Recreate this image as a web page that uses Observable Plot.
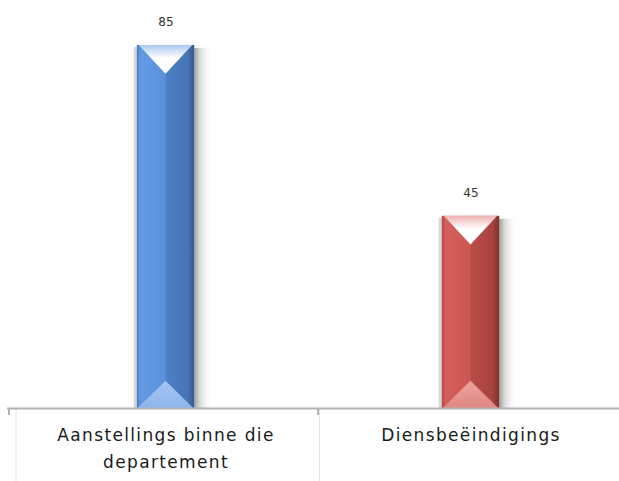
<!DOCTYPE html>
<html><head><meta charset="utf-8">
<script src="https://cdn.jsdelivr.net/npm/d3@7"></script>
<script src="https://cdn.jsdelivr.net/npm/@observablehq/plot@0.6"></script>
<style>
body{margin:0;background:#fff;overflow:hidden}
g[aria-label="x-axis tick label"] text{letter-spacing:1.35px}
</style>
</head><body><div id="chart"></div>
<script>
const categories = ["Aanstellings binne die departement", "Diensbeëindigings"];
const values = [85, 45];
const tickLabels = ["Aanstellings binne die\ndepartement", "Diensbeëindigings"];
const tones = ["blue", "red"];

const data = categories.map((c, i) => ({category: c, value: values[i], tone: tones[i]}));

const toneColors = {
  blue: {edgeL: "#4a7cc4", light: "#639ae4", mid: "#5b91dc", dark: "#4c80c8", darker: "#4674b6", edgeR: "#36598c",
         capTop: "#a9c9f2", bottom: "#8db5ec", bottomHi: "#a6c6f2"},
  red:  {edgeL: "#b84643", light: "#d55f5a", mid: "#cc5752", dark: "#ba4b47", darker: "#a8433f", edgeR: "#7d2f2c",
         capTop: "#eeb1ae", bottom: "#e08784", bottomHi: "#eba5a2"}
};

function bevel(index, scales, vals, dims, ctx, next) {
  const g = next(index, scales, vals, dims, ctx);
  const defs = d3.create("svg:defs");
  for (const t of Object.keys(toneColors)) {
    const c = toneColors[t];
    const h = defs.append("linearGradient").attr("id", "body-" + t).attr("x1", 0).attr("x2", 1).attr("y1", 0).attr("y2", 0);
    [[0, c.edgeL], [0.07, c.light], [0.49, c.mid], [0.51, c.dark], [0.88, c.darker], [1, c.edgeR]]
      .forEach(([o, col]) => h.append("stop").attr("offset", o).attr("stop-color", col));
    const top = defs.append("linearGradient").attr("id", "top-" + t).attr("x1", 0).attr("x2", 0).attr("y1", 0).attr("y2", 1);
    [[0, c.capTop], [0.45, "#ffffff"], [1, "#ffffff"]]
      .forEach(([o, col]) => top.append("stop").attr("offset", o).attr("stop-color", col));
    const bot = defs.append("linearGradient").attr("id", "bot-" + t).attr("x1", 0).attr("x2", 0).attr("y1", 0).attr("y2", 1);
    [[0, c.bottomHi], [1, c.bottom]]
      .forEach(([o, col]) => bot.append("stop").attr("offset", o).attr("stop-color", col));
  }
  const sh = defs.append("linearGradient").attr("id", "shadow").attr("x1", 0).attr("x2", 1).attr("y1", 0).attr("y2", 0);
  [[0, "#8c8c8c", 0.85], [0.35, "#bdbdbd", 0.5], [1, "#ffffff", 0]]
    .forEach(([o, col, op]) => sh.append("stop").attr("offset", o).attr("stop-color", col).attr("stop-opacity", op));

  const wrap = d3.create("svg:g");
  wrap.append(() => defs.node());
  const rects = Array.from(g.querySelectorAll("rect"));
  rects.forEach((r, k) => {
    const i = index[k];
    const t = data[i].tone;
    const x = +r.getAttribute("x"), y = +r.getAttribute("y");
    const w = +r.getAttribute("width"), h = +r.getAttribute("height");
    wrap.append("rect").attr("x", x + w).attr("y", y + 3).attr("width", 18).attr("height", h - 3).attr("fill", "url(#shadow)");
    wrap.append("rect").attr("x", x - 3).attr("y", y + 2).attr("width", 3).attr("height", h - 2).attr("fill", "#d6d6d6");
    r.setAttribute("fill", `url(#body-${t})`);
    wrap.append(() => r);
    const d = w / 2;
    wrap.append("polygon")
      .attr("points", `${x + 2},${y} ${x + w - 2},${y} ${x + w / 2},${y + d}`)
      .attr("fill", `url(#top-${t})`);
    wrap.append("polygon")
      .attr("points", `${x + 1},${y + h} ${x + w - 1},${y + h} ${x + w / 2},${y + h - d * 0.95}`)
      .attr("fill", `url(#bot-${t})`);
  });
  return wrap.node();
}

function dividers(index, scales, vals, dims) {
  const g = d3.create("svg:g");
  const y0 = scales.y(0);
  categories.forEach((c, k) => {
    const px = scales.x(c);
    const tx = k === 0 ? px - 4 : px;
    g.append("line").attr("x1", tx).attr("x2", tx).attr("y1", y0).attr("y2", y0 + 7)
      .attr("stroke", "#b3b3b3").attr("stroke-width", 2);
    const lx = k === 0 ? px + 3 : px + 1.5;
    g.append("line").attr("x1", lx).attr("x2", lx).attr("y1", y0 + 1).attr("y2", dims.height)
      .attr("stroke", "#e2e2e2").attr("stroke-width", 1);
  });
  return g.node();
}

const chart = Plot.plot({
  width: 619,
  height: 481,
  marginTop: 23.6,
  marginBottom: 73,
  marginLeft: 12,
  marginRight: -4,
  x: {domain: categories, padding: 0, axis: null},
  y: {domain: [0, 90], axis: null},
  style: {fontFamily: "'DejaVu Sans', sans-serif", background: "white"},
  marks: [
    Plot.barY(data, {x: "category", y: "value", insetLeft: 123.75, insetRight: 123.75, fill: "#5e94df", render: bevel}),
    Plot.ruleX(categories, {x: d => d, render: dividers}),
    Plot.ruleY([0], {stroke: "#b3b3b3", strokeWidth: 2, insetLeft: -5}),
    Plot.axisX({
      tickSize: 0,
      tickPadding: 14,
      fontSize: 17,
      lineHeight: 1.55,
      fill: "#1a1a1a",
      tickFormat: d => tickLabels[categories.indexOf(d)],
      label: null
    }),
    Plot.text(data, {x: "category", y: "value", text: d => String(d.value), lineAnchor: "bottom", dy: -19, fontSize: 12, fill: "#333"})
  ]
});
document.getElementById("chart").append(chart);
</script>
</body></html>
